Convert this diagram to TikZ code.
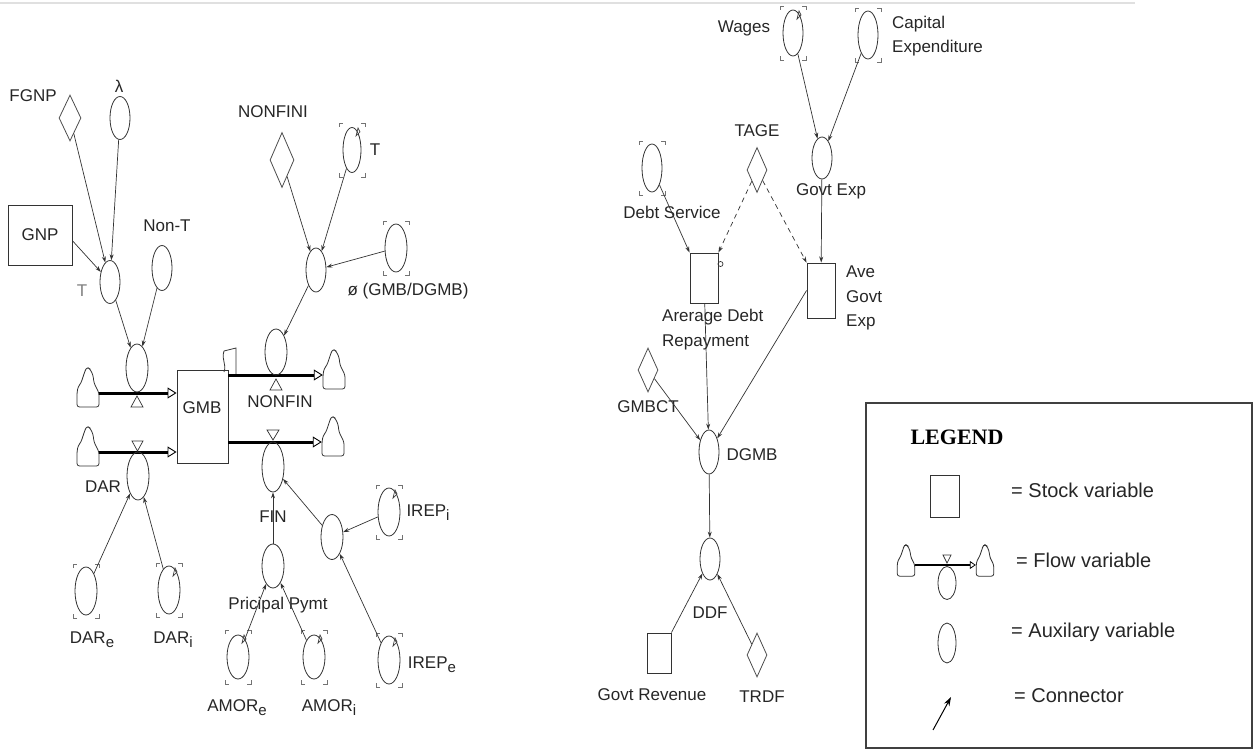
\documentclass[tikz,border=0pt]{standalone}
\usepackage{fontspec}
\setmainfont{Liberation Sans}
\newfontfamily\legserif{Liberation Serif}
\usetikzlibrary{shapes.geometric,arrows.meta}
\newcommand{\lowsub}[1]{\raisebox{-0.45ex}{\fontsize{15}{15}\selectfont #1}}
\begin{document}
\begin{tikzpicture}[x=1pt,y=-1pt,
  every node/.style={font=\fontsize{17}{24.5}\selectfont, text=black!85},
  aux/.style={ellipse,draw=black!80,line width=0.8pt,minimum width=20pt,minimum height=44pt,inner sep=0pt},
  conv/.style={diamond,draw=black!70,line width=0.8pt,minimum width=22pt,minimum height=46pt,inner sep=0pt},
  stockbox/.style={rectangle,draw=black!80,line width=0.9pt,inner sep=0pt},
  lbl/.style={inner sep=1pt},
  legtxt/.style={inner sep=1pt,anchor=west,font=\fontsize{20}{24}\selectfont},
  conn/.style={draw=black!80,line width=0.7pt,-{Stealth[length=6pt,width=4pt]}},
  dconn/.style={conn,dash pattern=on 5pt off 4pt},
  pipe/.style={draw=black,line width=3pt,-{Triangle[open,length=9pt,width=11pt,line width=0.9pt]}},
  valve/.style={draw=black!80,line width=0.7pt,fill=white},
  cloudnode/.style={inner sep=0pt,minimum width=22pt,minimum height=2pt},
  flask/.pic={\draw[black!80,line width=0.8pt,rounded corners=2.5pt] (-11,14) -- (11,14) -- (11,0) -- (8,-6) -- (6,-10) -- (5,-18) -- (2,-24) -- (-1,-26) -- (-3,-22) -- (-5,-16) -- (-7,-10) -- (-10,-6) -- (-11,0) -- cycle;},
  brk/.pic={\draw[black!55,line width=0.8pt] (-13,-23) -- (-13,-27) -- (-9,-27) (9,-27) -- (13,-27) -- (13,-23) (13,23) -- (13,27) -- (9,27) (-9,27) -- (-13,27) -- (-13,23);},
  gfx/.pic={\draw[black!75,line width=0.7pt] (4,-14) -- (6,-22) -- (8,-18) -- cycle;}
]
\useasboundingbox (0,0) rectangle (1257,751);
\draw[black!12,line width=1.5pt] (0,3) -- (1135,3);

% ---------- left diagram ----------
\node[conv] (fgnp) at (70,118) {};
\node[lbl] (fgnpL) at (33,96) {FGNP};
\node[aux,minimum height=43pt] (lam) at (120,118) {};
\node[lbl] (lamL) at (119,86) {λ};
\node[stockbox,minimum width=64pt,minimum height=60pt] (gnp) at (40,235) {GNP};
\node[aux,minimum height=43pt] (t1) at (110,282) {};
\node[lbl,text=black!50] (t1L) at (82,291) {T};
\node[lbl] (nontL) at (167,226) {Non-T};
\node[aux,minimum height=45pt] (nont) at (162,268) {};

\node[stockbox,minimum width=51pt,minimum height=93pt] (gmb) at (202.5,416.5) {};
\node[lbl] (gmbL) at (202,408) {GMB};
\draw[black!80,line width=0.8pt] (224,351) -- (236,348) -- (236,374);
\draw[black!80,line width=0.8pt] (224,351) .. controls (221,360) and (227,364) .. (224,372);

% inflow T
\node[cloudnode] (cl1) at (88,393) {};
\pic at (cl1) {flask};
\draw[pipe] (cl1.east) -- (cl1.east -| gmb.west);
\node[aux,minimum width=22pt,minimum height=48pt] (v1) at (137,368) {};
\draw[valve] (137,396) -- (143,407) -- (131,407) -- cycle;

% inflow DAR
\node[cloudnode] (cl2) at (88,452) {};
\pic at (cl2) {flask};
\draw[pipe] (cl2.east) -- (cl2.east -| gmb.west);
\node[aux,minimum width=22pt,minimum height=48pt] (dar) at (138,476) {};
\draw[valve] (132,441) -- (143,441) -- (137.5,451) -- cycle;
\node[lbl] (darL) at (103,487) {DAR};

% outflow NONFIN
\node[cloudnode] (cl3) at (334,375) {};
\pic at (cl3) {flask};
\draw[pipe] (cl3 -| gmb.east) -- (cl3.west);
\node[aux,minimum width=22pt,minimum height=46pt] (vnf) at (276,352) {};
\draw[valve] (276,379) -- (282,390) -- (270,390) -- cycle;
\node[lbl] (vnfL) at (280,402) {NONFIN};

% outflow FIN
\node[cloudnode] (cl4) at (333,442) {};
\pic at (cl4) {flask};
\draw[pipe] (cl4 -| gmb.east) -- (cl4.west);
\node[aux,minimum width=22pt,minimum height=50pt] (fin) at (273,467) {};
\draw[valve] (267,430) -- (279,430) -- (273,440) -- cycle;
\node[lbl] (finL) at (273,517) {FIN};

\node[aux,minimum width=22pt] (pp) at (273,566) {};
\node[lbl] (ppL) at (278,605) {Pricipal Pymt};
\node[aux,minimum width=22pt] (amore) at (238,657) {};
\pic at (amore) {brk}; \pic at (amore) {gfx};
\node[lbl] (amoreL) at (237,708) {AMOR\lowsub{e}};
\node[aux,minimum width=22pt] (amori) at (314,657) {};
\pic at (amori) {brk}; \pic at (amori) {gfx};
\node[lbl] (amoriL) at (329,708) {AMOR\lowsub{i}};
\node[aux,minimum width=22pt,minimum height=45pt] (irep) at (332,537) {};
\node[aux,minimum width=22pt,minimum height=48pt] (irepi) at (389,512) {};
\pic at (irepi) {brk}; \pic at (irepi) {gfx};
\node[lbl] (irepiL) at (428,513) {IREP\lowsub{i}};
\node[aux,minimum width=22pt,minimum height=48pt] (irepe) at (389,660) {};
\pic at (irepe) {brk}; \pic at (irepe) {gfx};
\node[lbl] (irepeL) at (432,665) {IREP\lowsub{e}};
\node[aux,minimum width=22pt,minimum height=48pt] (dare) at (86,591) {};
\pic at (dare) {brk};
\node[lbl] (dareL) at (92,640) {DAR\lowsub{e}};
\node[aux,minimum width=22pt,minimum height=48pt] (dari) at (169,590) {};
\pic at (dari) {brk}; \pic at (dari) {gfx};
\node[lbl] (dariL) at (173,640) {DAR\lowsub{i}};

\node[lbl] (nonfiniL) at (273,112) {NONFINI};
\node[conv,minimum width=24pt,minimum height=55pt] (nonfini) at (282,160) {};
\node[aux,minimum width=18pt,minimum height=45pt] (tu) at (352,150) {};
\pic at (tu) {brk}; \pic at (tu) {gfx};
\node[lbl] (tuL) at (375,150) {T};
\node[aux,minimum width=22pt,minimum height=48pt] (phi) at (396,248) {};
\pic at (phi) {brk};
\node[lbl] (phiL) at (408,291) {ø (GMB/DGMB)};
\node[aux] (mid) at (316,270) {};

\draw[conn] (fgnp) -- (t1);
\draw[conn] (lam) -- (t1);
\draw[conn] (gnp.-10) -- (t1);
\draw[conn] (t1) -- (v1);
\draw[conn] (nont) -- (v1);
\draw[conn] (nonfini) -- (mid);
\draw[conn] (tu) -- (mid);
\draw[conn] (phi) -- (mid);
\draw[conn] (mid) -- (vnf);
\draw[conn] (dare) -- (dar);
\draw[conn] (dari) -- (dar);
\draw[conn] (pp) -- (fin);
\draw[conn] (amore) -- (pp);
\draw[conn] (amori) -- (pp);
\draw[conn] (irep) -- (fin);
\draw[conn] (irepi) -- (irep);
\draw[conn] (irepe) -- (irep);

% ---------- right diagram ----------
\node[lbl] (wagesL) at (744,28) {Wages};
\node[aux,minimum height=46pt] (wages) at (793,33) {};
\pic at (wages) {brk}; \pic at (wages) {gfx};
\node[aux,minimum height=48pt] (capex) at (868,35) {};
\pic at (capex) {brk};
\node[lbl,anchor=west,align=left] (capexL) at (891,36) {Capital\\Expenditure};
\node[aux,minimum height=42pt] (gexp) at (822,158) {};
\node[lbl] (gexpL) at (831,191) {Govt Exp};
\node[lbl] (tageL) at (757,131) {TAGE};
\node[conv,minimum width=20pt,minimum height=45pt] (tage) at (757,170) {};
\node[aux,minimum height=48pt] (ds) at (652,168) {};
\pic at (ds) {brk};
\node[lbl] (dsL) at (672,212) {Debt Service};
\node[stockbox,minimum width=28pt,minimum height=50pt] (adr) at (704,278) {};
\draw[black!80,line width=0.7pt] (720.5,264) circle (2.5);
\node[lbl,anchor=north west,align=left] (adrL) at (661,308) {Arerage Debt\\Repayment};
\node[stockbox,minimum width=28pt,minimum height=55pt] (agexp) at (821,290.5) {};
\node[lbl,anchor=north west,align=left] (agexpL) at (845,265) {Ave\\Govt\\Exp};
\node[conv,minimum width=20pt,minimum height=44pt] (gmbct) at (648,370) {};
\node[lbl] (gmbctL) at (648,407) {GMBCT};
\node[aux] (dgmb) at (709,452) {};
\node[lbl] (dgmbL) at (752,455) {DGMB};
\node[aux,minimum height=42pt] (ddf) at (710,559) {};
\node[lbl] (ddfL) at (710,613) {DDF};
\node[stockbox,minimum width=24pt,minimum height=40pt] (grev) at (659,653) {};
\node[lbl] (grevL) at (652,695) {Govt Revenue};
\node[conv,minimum width=20pt,minimum height=44pt] (trdf) at (757,655) {};
\node[lbl] (trdfL) at (762,697) {TRDF};

\draw[conn] (wages) -- (gexp);
\draw[conn] (capex) -- (gexp);
\draw[conn] (gexp) -- (agexp);
\draw[conn] (ds) -- (adr.north west);
\draw[dconn] (tage) -- (adr.north east);
\draw[dconn] (tage) -- (agexp.north west);
\draw[conn] (adr) -- (dgmb);
\draw[conn] (agexp.west) -- (dgmb);
\draw[conn] (gmbct) -- (dgmb);
\draw[conn] (dgmb) -- (ddf);
\draw[conn] (grev.north east) -- (ddf);
\draw[conn] (trdf) -- (ddf);

% ---------- legend ----------
\node[draw=black!75,line width=1.2pt,minimum width=386pt,minimum height=345pt,inner sep=0pt] (legbox) at (1059,575.5) {};
\node[font=\legserif\bfseries\fontsize{22}{22}\selectfont,text=black] (legT) at (957,437) {LEGEND};
\node[stockbox,minimum width=29pt,minimum height=42pt] (lstock) at (944.5,496) {};
\node[legtxt] (lstockL) at (1010,490) {= Stock variable};
\node[cloudnode,minimum width=18pt] (lc1) at (906,565) {};
\pic[scale=0.8] at (lc1) {flask};
\node[cloudnode,minimum width=18pt] (lc2) at (985,565) {};
\pic[scale=0.8] at (lc2) {flask};
\draw[draw=black,line width=2pt,-{Triangle[open,length=6pt,width=8pt,line width=0.8pt]}] (lc1.east) -- (lc2.west);
\node[aux,minimum width=18pt,minimum height=33pt] (lv) at (947,583) {};
\draw[valve] (943,555) -- (951,555) -- (947,563) -- cycle;
\node[legtxt] (lflowL) at (1015,560) {= Flow variable};
\node[aux,minimum width=18pt,minimum height=40pt] (laux) at (947,643) {};
\node[legtxt] (lauxL) at (1010,632) {= Auxilary variable};
\coordinate (ca) at (933,730);
\coordinate (cb) at (951,697);
\draw[black,line width=1pt,-{Stealth[length=9pt,width=6pt]}] (ca) -- (cb);
\node[legtxt] (lconnL) at (1013,696) {= Connector};
\end{tikzpicture}
\end{document}
